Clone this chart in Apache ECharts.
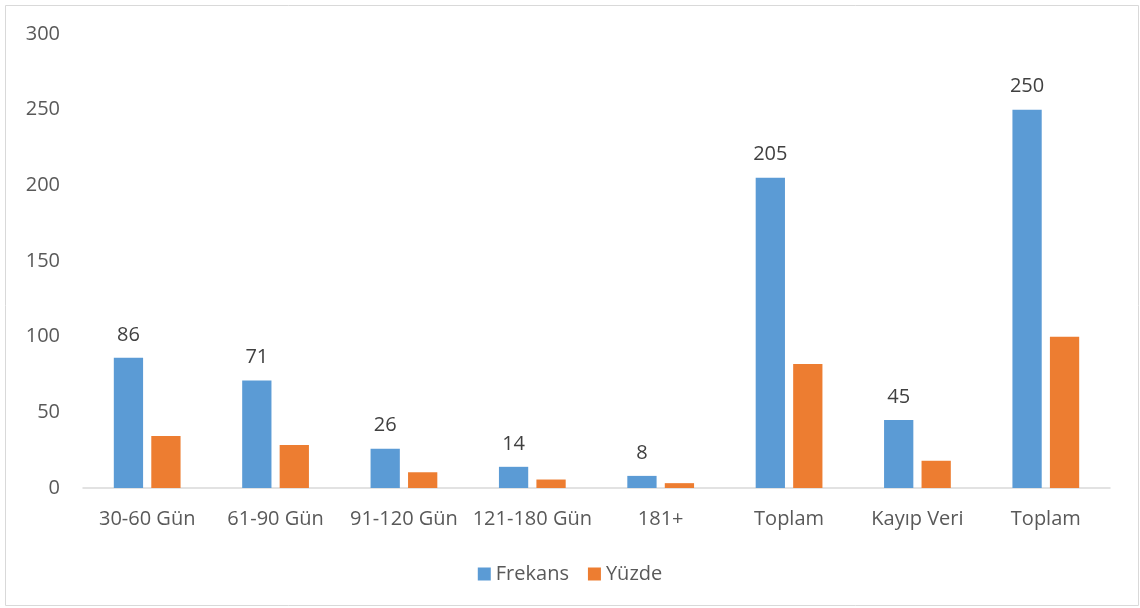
<!DOCTYPE html>
<html>
<head>
<meta charset="utf-8">
<script src="https://cdn.jsdelivr.net/npm/echarts@6/dist/echarts.min.js"></script>
<style>
  html, body { margin: 0; padding: 0; background: #fff; }
  #chart { width: 1140px; height: 608px; }
</style>
</head>
<body>
<div id="chart"></div>
<script>
const categories = ['30-60 Gün', '61-90 Gün', '91-120 Gün', '121-180 Gün', '181+', 'Toplam', 'Kayıp Veri', 'Toplam'];
const frekans = [86, 71, 26, 14, 8, 205, 45, 250];
const yuzde = [34.4, 28.4, 10.4, 5.6, 3.2, 82, 18, 100];
const yTicks = { min: 0, max: 300, step: 50 };

const font = '"Open Sans", "Liberation Sans", sans-serif';

const chart = echarts.init(document.getElementById('chart'), null, { renderer: 'canvas' });
chart.setOption({
  animation: false,
  backgroundColor: '#ffffff',
  textStyle: { fontFamily: font },
  graphic: [{
    type: 'rect',
    shape: { x: 5.5, y: 5.5, width: 1133, height: 600 },
    style: { fill: 'none', stroke: '#d9d9d9', lineWidth: 1 },
    silent: true
  }],
  grid: { left: 83, right: 30, top: 34, bottom: 120, containLabel: false },
  legend: {
    top: 559,
    left: 'center',
    itemWidth: 13,
    itemHeight: 13,
    itemGap: 19,
    icon: 'rect',
    textStyle: { color: '#595959', fontSize: 20, fontFamily: font },
    data: ['Frekans', 'Yüzde']
  },
  xAxis: {
    type: 'category',
    data: categories,
    axisLine: { lineStyle: { color: '#d9d9d9', width: 1.5 } },
    axisTick: { show: false },
    axisLabel: { color: '#595959', fontSize: 20, margin: 21, fontFamily: font, interval: 0 }
  },
  yAxis: {
    type: 'value',
    min: yTicks.min,
    max: yTicks.max,
    interval: yTicks.step,
    axisLine: { show: false },
    axisTick: { show: false },
    splitLine: { show: false },
    axisLabel: { color: '#595959', fontSize: 20, margin: 23, fontFamily: font }
  },
  series: [
    {
      name: 'Frekans',
      type: 'bar',
      data: frekans,
      barGap: '28%',
      barCategoryGap: '48%',
      itemStyle: { color: '#5B9BD5' },
      label: { show: true, position: 'top', distance: 13, color: '#404040', fontSize: 20, fontFamily: font }
    },
    {
      name: 'Yüzde',
      type: 'bar',
      data: yuzde,
      itemStyle: { color: '#ED7D31' }
    }
  ]
});
</script>
</body>
</html>
